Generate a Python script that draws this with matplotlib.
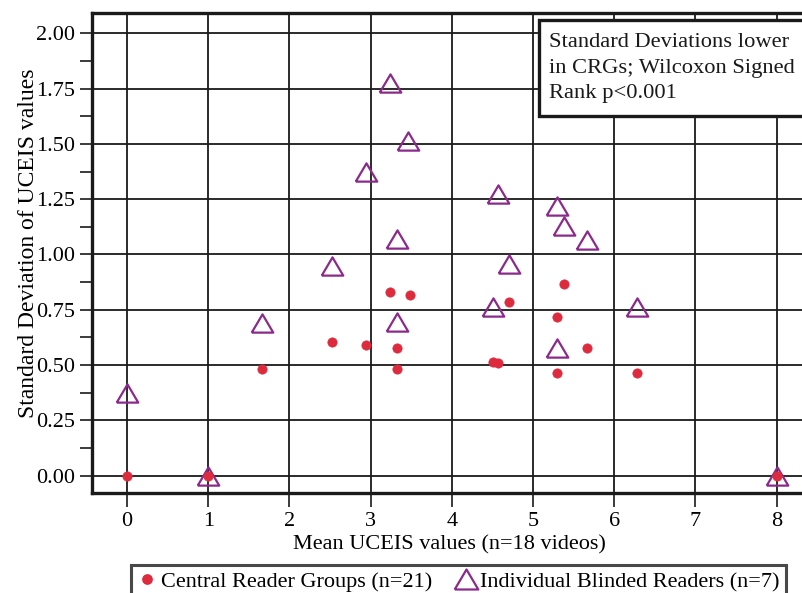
import matplotlib
matplotlib.use("Agg")
import matplotlib.pyplot as plt
from matplotlib.lines import Line2D
from matplotlib.patches import Rectangle
from matplotlib.ticker import MultipleLocator

# Mean UCEIS per video and standard deviation of the scores
crg_mean = [0, 1, 8, 1.66, 2.53, 2.94, 3.24, 3.33, 3.33, 3.48, 4.51, 4.57, 4.70, 5.29, 5.29, 5.38, 5.66, 6.28]
crg_sd = [0, 0, 0, 0.484, 0.604, 0.591, 0.832, 0.577, 0.484, 0.815, 0.515, 0.508, 0.785, 0.719, 0.464, 0.867, 0.579, 0.464]

ind_mean = [0, 1, 8, 1.66, 2.53, 2.94, 3.24, 3.33, 3.33, 3.46, 4.51, 4.57, 4.70, 5.29, 5.29, 5.38, 5.67, 6.28]
ind_sd = [0.375, 0, 0, 0.690, 0.950, 1.374, 1.775, 1.072, 0.696, 1.514, 0.763, 1.275, 0.956, 1.218, 0.577, 1.130, 1.064, 0.763]

crg_label = "Central Reader Groups (n=21)"
ind_label = "Individual Blinded Readers (n=7)"
note = "Standard Deviations lower\nin CRGs; Wilcoxon Signed\nRank p<0.001"

x_ticks = [0, 1, 2, 3, 4, 5, 6, 7, 8]
y_ticks = [0.0, 0.25, 0.5, 0.75, 1.0, 1.25, 1.5, 1.75, 2.0]

RED = "#dd2a3d"
PURPLE = "#8c2a8c"
INK = "#1a1a1a"
FS = 16

plt.rcParams["font.family"] = ["Liberation Serif", "DejaVu Serif"]

W, H = 803, 593
fig = plt.figure(figsize=(W / 100, H / 100), dpi=100)
ax_l, ax_r, ax_t, ax_b = 92, 806, 13, 493
ax = fig.add_axes([ax_l / W, 1 - ax_b / H, (ax_r - ax_l) / W, (ax_b - ax_t) / H])

# wide open triangle marker
tri = [(-1.18, -1), (1.18, -1), (0, 1), (-1.18, -1)]

ax.plot(ind_mean, ind_sd, linestyle="none", marker=tri, markersize=15.5,
        markerfacecolor="none", markeredgecolor=PURPLE, markeredgewidth=1.6, zorder=3)
ax.plot(crg_mean, crg_sd, linestyle="none", marker="o", markersize=6.7,
        markerfacecolor=RED, markeredgecolor=RED, markeredgewidth=0.5, zorder=4)

px_per_x = 81.2
x0_px = 127
ax.set_xlim((ax_l - x0_px) / px_per_x, (ax_r - x0_px) / px_per_x)
px_per_y = 221.2
y0_px = 475.7
ax.set_ylim((y0_px - ax_b) / px_per_y, (y0_px - ax_t) / px_per_y)

ax.set_xticks(x_ticks)
ax.set_yticks(y_ticks)
ax.set_yticklabels([f"{v:.2f}" for v in y_ticks])
ax.yaxis.set_minor_locator(MultipleLocator(0.125))
ax.grid(True, which="major", color=INK, linewidth=1.3)
ax.set_axisbelow(True)

ax.tick_params(axis="both", which="both", labelsize=FS, color=INK, width=1.2)
ax.tick_params(axis="x", which="major", length=10, direction="out", pad=4)
ax.tick_params(axis="y", which="both", length=9, direction="out", pad=3)

for side in ["left", "bottom", "top"]:
    ax.spines[side].set_linewidth(2.4)
    ax.spines[side].set_color(INK)
ax.spines["right"].set_visible(False)

ax.set_xlabel("Mean UCEIS values (n=18 videos)", fontsize=FS, labelpad=3)
ax.set_ylabel("Standard Deviation of UCEIS values", fontsize=17)
ax.yaxis.set_label_coords(-0.0745, 0.52)

# annotation box in the upper right
box = Rectangle(((539 - ax_l) / (ax_r - ax_l), (ax_b - 116) / (ax_b - ax_t)),
                0.5, (116 - 20) / (ax_b - ax_t), transform=ax.transAxes,
                facecolor="white", edgecolor=INK, linewidth=2.4,
                clip_on=False, zorder=6)
ax.add_patch(box)
ax.text((549 - ax_l) / (ax_r - ax_l), (ax_b - 33) / (ax_b - ax_t), note,
        transform=ax.transAxes, ha="left", va="top", fontsize=16.2,
        linespacing=1.47, color=INK, zorder=7)

handles = [
    Line2D([], [], linestyle="none", marker="o", markersize=6.7,
           markerfacecolor=RED, markeredgecolor=RED, label=crg_label),
    Line2D([], [], linestyle="none", marker=tri, markersize=17,
           markerfacecolor="none", markeredgecolor=PURPLE, markeredgewidth=1.6,
           label=ind_label),
]
leg = fig.legend(handles=handles, loc="upper left",
                 bbox_to_anchor=(131 / W, 1 - 565 / H), ncol=2, fontsize=16,
                 frameon=True, fancybox=False, handlelength=0.8,
                 handletextpad=0.25, columnspacing=1.1, borderpad=0.3,
                 borderaxespad=0)
leg.get_frame().set_edgecolor(INK)
leg.get_frame().set_linewidth(2.2)

fig.savefig("out.png", dpi=100)
